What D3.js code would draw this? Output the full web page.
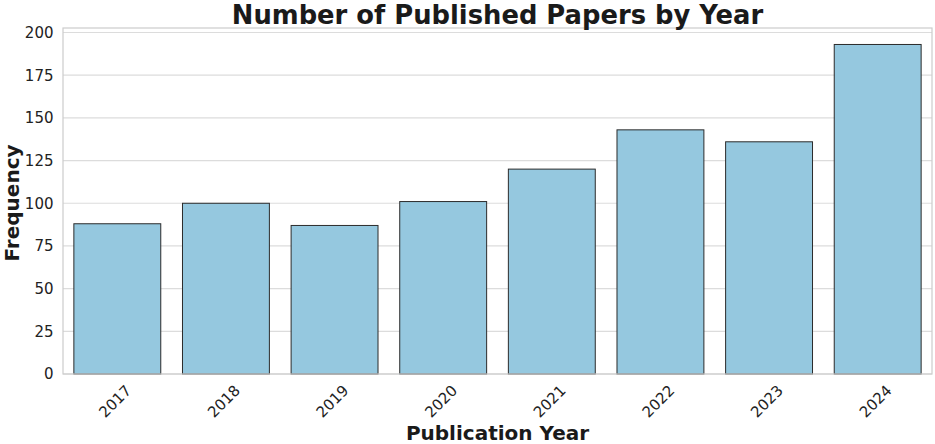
<!DOCTYPE html>
<html>
<head>
<meta charset="utf-8">
<script src="https://cdn.jsdelivr.net/npm/d3@7"></script>
<style>
  body { margin: 0; background: #fff; }
  svg { font-family: "DejaVu Sans", sans-serif; }
</style>
</head>
<body>
<div id="chart"></div>
<script>
// data
var years = ["2017", "2018", "2019", "2020", "2021", "2022", "2023", "2024"];
var counts = [88, 100, 87, 101, 120, 143, 136, 193];
var yTicks = [0, 25, 50, 75, 100, 125, 150, 175, 200];

var W = 935, H = 444;
var margin = {top: 28, right: 3, bottom: 70, left: 63};
var w = W - margin.left - margin.right;
var h = H - margin.top - margin.bottom;

var svg = d3.select("#chart")
    .append("svg")
    .attr("width", W)
    .attr("height", H);

var g = svg.append("g")
    .attr("transform", "translate(" + margin.left + "," + margin.top + ")");

var xScale = d3.scaleBand()
    .domain(years)
    .range([0, w])
    .paddingInner(0.2)
    .paddingOuter(0.1);

// matplotlib style 5% headroom
var yScale = d3.scaleLinear()
    .domain([0, d3.max(counts) * 1.05])
    .range([h, 0]);

// gridlines
g.selectAll("line.grid")
    .data(yTicks)
    .enter()
    .append("line")
    .attr("class", "grid")
    .attr("x1", 0)
    .attr("x2", w)
    .attr("y1", function(d) { return yScale(d); })
    .attr("y2", function(d) { return yScale(d); })
    .attr("stroke", "#dcdcdc")
    .attr("stroke-width", 1.2);

// bars
g.selectAll("rect.bar")
    .data(counts)
    .enter()
    .append("rect")
    .attr("class", "bar")
    .attr("x", function(d, i) { return xScale(years[i]); })
    .attr("y", function(d) { return yScale(d); })
    .attr("width", xScale.bandwidth())
    .attr("height", function(d) { return h - yScale(d); })
    .attr("fill", "#95c8df")
    .attr("stroke", "#2b2b2b")
    .attr("stroke-width", 1);

// frame
g.append("rect")
    .attr("x", 0)
    .attr("y", 0)
    .attr("width", w)
    .attr("height", h)
    .attr("fill", "none")
    .attr("stroke", "#cccccc")
    .attr("stroke-width", 1.2);

// y axis
var yAxis = g.append("g")
    .call(d3.axisLeft(yScale).tickValues(yTicks).tickSize(0).tickPadding(9.5));
yAxis.select(".domain").remove();
yAxis.selectAll("text")
    .attr("font-size", 15)
    .attr("fill", "#222")
    .style("font-family", "DejaVu Sans");

// x axis, labels turned 45 degrees
var xAxis = g.append("g")
    .attr("transform", "translate(0," + h + ")")
    .call(d3.axisBottom(xScale).tickSize(0));
xAxis.select(".domain").remove();
xAxis.selectAll("text")
    .attr("font-size", 15)
    .attr("fill", "#222")
    .style("font-family", "DejaVu Sans")
    .attr("text-anchor", "middle")
    .attr("y", 0)
    .attr("dy", 0)
    .attr("transform", "translate(1.5,31) rotate(-45)");

// title
svg.append("text")
    .attr("x", margin.left + w / 2)
    .attr("y", 23.5)
    .attr("text-anchor", "middle")
    .attr("font-size", 25.8)
    .attr("font-weight", "bold")
    .attr("fill", "#1a1a1a")
    .text("Number of Published Papers by Year");

// axis labels
svg.append("text")
    .attr("x", margin.left + w / 2)
    .attr("y", 440)
    .attr("text-anchor", "middle")
    .attr("font-size", 20)
    .attr("font-weight", "bold")
    .attr("fill", "#1a1a1a")
    .text("Publication Year");

svg.append("text")
    .attr("transform", "translate(18.5,203) rotate(-90)")
    .attr("text-anchor", "middle")
    .attr("font-size", 20)
    .attr("font-weight", "bold")
    .attr("fill", "#1a1a1a")
    .text("Frequency");
</script>
</body>
</html>
